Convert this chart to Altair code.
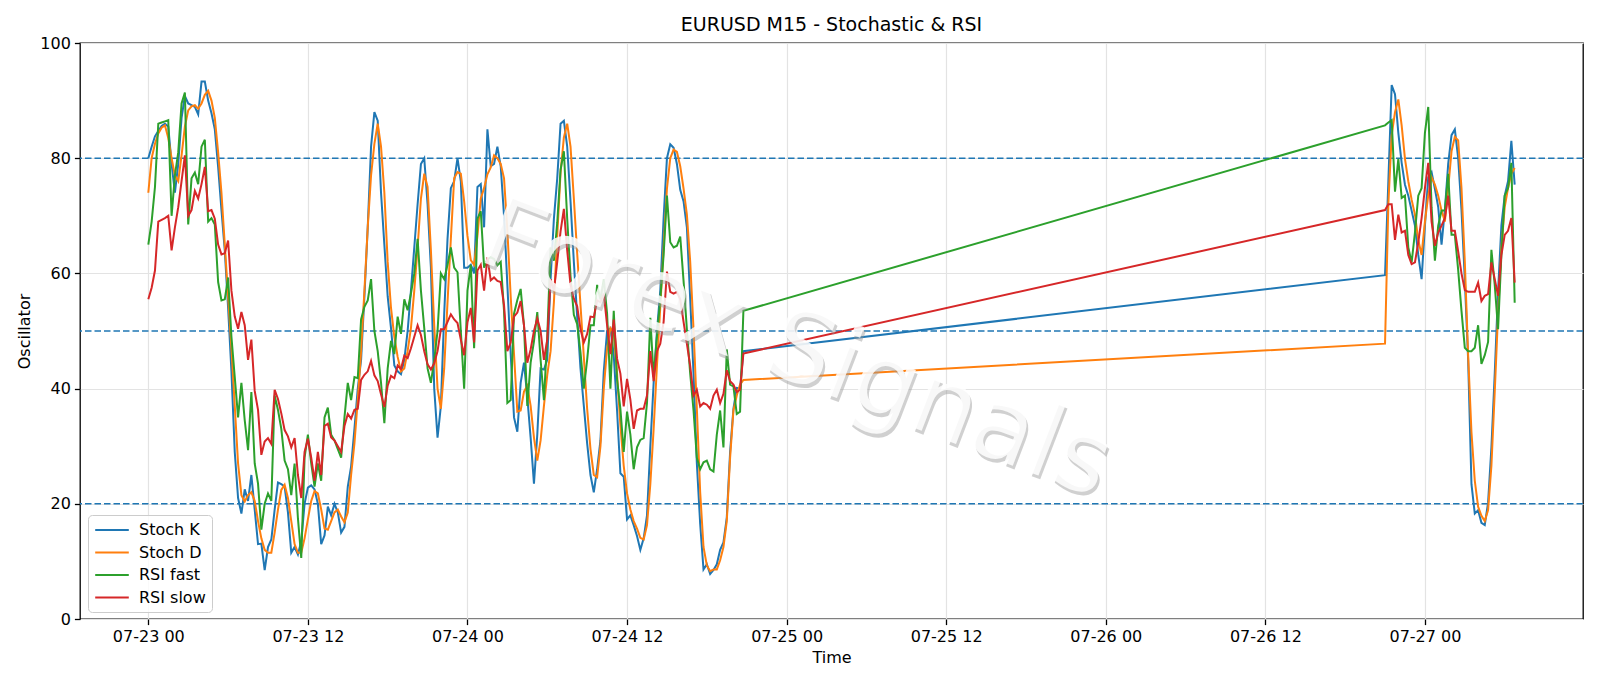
import altair as alt
import pandas as pd

# ---------------- data (15-minute bars) ----------------
# segment A: 2020-07-23 00:00 .. 2020-07-24 20:45 (180 bars)
stoch_k_a = [80, 82, 83.8, 84.7, 85.6, 86, 85.5, 79, 74, 79, 87, 90.8, 89.5, 89.2, 88.9, 87.6, 93.3, 93.3, 90, 87.8,
             85, 78.5, 71, 64, 54, 43, 29, 21, 18.3, 22.5, 20.5, 25, 19, 13, 13.1, 8.5, 12.5, 13.8, 19, 23.7,
             23.4, 23, 18.5, 11.5, 12.5, 11.2,
             13.5, 20, 22.8, 23.2, 22.5, 20, 13, 14.5, 19.5, 18, 20, 18.5, 15, 16, 23, 26.5, 33, 40, 45, 56,
             68, 82, 88, 86.5, 74, 65, 56, 50.5, 44, 43, 42.5, 45, 50, 57, 64.5, 72, 79, 80, 72, 61,
             40, 31.5, 37, 53, 66, 74.8,
             76, 80, 76, 61, 61, 61.5, 60, 75, 75.5, 68, 85, 78.6, 79, 82, 78.6, 70, 58, 46, 35, 32.5,
             41, 44.5, 38.5, 31.5, 23.5, 32, 43.5, 43.3, 45, 59, 69.5, 76.5, 86, 86.5, 82, 72.5, 62, 52.5, 43.5, 37,
             30.5, 25, 22, 26,
             31, 43, 50, 50.5, 45.8, 36.2, 25.3, 24.7, 17.3, 18, 16.3, 14.4, 12, 14, 18, 30, 41, 50, 57, 69.6,
             80, 82.4, 81.8, 79, 74.5, 72.5, 68, 55.5, 42.6, 27, 16.5, 8.6, 9.5, 7.8, 8.5, 9.5, 12, 13.3, 17.6, 29,
             36.5, 40.1, 40, 46.5]
stoch_d_a = [74, 80, 82.5, 84.3, 85.3, 85.7, 83.5, 80, 77, 76, 80.5, 85.5, 88.3, 89, 89.2, 88.6, 89.5, 91, 91.7, 90,
             87, 81, 74, 65, 56, 47, 37, 27, 21.5, 20.4, 21.5, 22, 20.5, 17, 14, 12, 11.5, 11.5, 15, 19,
             22.4, 23.3, 21, 17, 13, 11.5,
             11.5, 14, 17.3, 20.5, 22.2, 21.8, 19, 15.7, 15.5, 17, 18.5, 19, 17.8, 16.8, 18.5, 25, 30.5, 38, 46.5, 57,
             68, 77, 82.5, 86, 82, 74, 62, 54, 49, 45.5, 43, 43.5, 46.5, 50.5, 57, 64.5, 73, 77.3, 75, 64,
             51, 40, 36.5, 43.5, 55, 66,
             76.5, 77.6, 77.3, 72.5, 66.5, 62.3, 61.5, 66.5, 73, 74.8, 77.2, 78.4, 80.5, 80, 79, 76.5, 67.5, 56, 46, 36,
             36.2, 39.5, 40.5, 37, 31.5, 27.5, 31, 37, 42.4, 46.5, 55, 66.5, 77.5, 83.6, 86, 82, 73, 63.5, 54.5, 45.5,
             36.5, 29.5, 25, 24.6,
             30, 40, 47, 50.5, 49.7, 42.6, 33.6, 26.6, 21.8, 19, 17, 15.7, 14.1, 13.8, 16.3, 23.4, 33, 44, 54.2, 64.5,
             74.7, 80, 81.5, 81.1, 78.6, 74.7, 70.2, 62, 50.3, 36.5, 22, 12.5, 9.3, 8.3, 8.6, 8.6, 10.2, 12.5, 17, 28,
             36.2, 38.8, 40.7, 41.5]
rsi_fast_a = [65, 69, 75, 86, 86.2, 86.4, 86.6, 70, 77, 81, 89.5, 91.4, 68.5, 76.5, 77.5, 75.5, 82, 83.2, 69, 69.6,
              68.5, 58.5, 55.3, 55.5, 59.3, 49, 42, 35, 41, 34.5, 29.3, 39.4, 27, 23.5, 15.5, 20, 21.8, 20.5, 38.8, 36.3,
              33, 27.5, 26, 21.5, 27, 17.5,
              10.6, 28, 32, 27, 23, 27, 24, 35, 36.7, 32, 31, 29.5, 28, 35, 41, 38, 42, 41.8, 52, 54.2,
              55.3, 59, 50, 46.5, 41, 34, 43.5, 48.3, 46, 52.5, 49.5, 55.5, 53.6, 56.5, 60, 66, 57, 50.5, 43.5, 41,
              45, 50, 60, 59, 61.5, 64.5,
              61, 60.2, 50, 40, 57, 61.5, 47, 69.5, 70.8, 61, 62.4, 62.8, 62.5, 61.4, 62, 53.5, 37.5, 38, 53, 55.4,
              57.3, 51, 37, 44.5, 48.2, 53.3, 45, 38, 49, 64.5, 62.2, 68.8, 78, 81.2, 69.5, 59.5, 52.8, 51.2, 46.3, 40,
              45, 51, 51, 58,
              55.5, 59, 53, 40, 53.5, 41.5, 36.5, 29, 36, 32, 26, 29.8, 31.1, 31.4, 37.5, 52.3, 42, 49.1, 55.5, 63.2,
              73.5, 65.4, 64.5, 64.8, 66.4, 58.7, 50.3, 42.6, 36.2, 28, 26, 27.2, 27.5, 26, 25.6, 32, 36.2, 29.8, 46.8, 40.7,
              40.4, 35.6, 36, 53.5]
rsi_slow_a = [55.5, 57.5, 60.5, 69, 69.3, 69.6, 70, 64, 68, 71.5, 76, 80.5, 70, 71, 74.3, 73, 75.5, 78.5, 70.8, 71,
              69.5, 65, 63.3, 63.5, 65.7, 57, 52.5, 50.4, 53.3, 51, 45, 48.5, 39.6, 36.3, 28.5, 30.8, 31.4, 30.4, 39.8, 38.2,
              35.7, 32.8, 31.7, 29.8, 31.4, 25,
              21, 29, 31.3, 28, 24, 29, 25, 33.5, 33.9, 31.5, 31, 30, 29, 33.5, 35.6, 34.8, 36.3, 36.5, 41.5, 42.4,
              43, 44.8, 42.3, 41.3, 39, 36.8, 40.5, 42.2, 41.8, 44, 43.4, 45.7, 45.3, 47, 49, 51, 49.3, 46.5, 44.2, 43.3,
              44.4, 46.5, 50.3, 50.3, 51.6, 52.9,
              52, 51.4, 48.5, 45.8, 51.5, 54, 48, 60.5, 61.5, 57, 62.8, 58.8, 59.3, 58.7, 58.5, 54.5, 46.5, 48, 52.5, 53.2,
              55.2, 51, 44.5, 46.8, 50, 52.2, 50, 45, 48.5, 59, 57, 62, 67.3, 71.2, 64, 58, 55.6, 54.3, 50.3, 48,
              49.5, 52.5, 52.4, 55.3,
              55, 56.5, 51, 46, 52, 45.2, 42.6, 36.9, 41.7, 38.1, 33, 36.2, 36.5, 36.5, 38.8, 46.5, 41.3, 46.5, 47.8, 51.6,
              60.3, 56.8, 56.5, 56.8, 55.5, 51.6, 47.8, 43.9, 38.8, 39.8, 36.9, 37.5, 37.2, 36.5, 38.8, 39.8, 37.5, 39.1, 43.2, 41.3,
              40.7, 39.4, 39.8, 46.1]

# segment B: 2020-07-26 21:00 .. 2020-07-27 06:45 (40 bars)
stoch_k_b = [59.7, 76, 92.7, 91.1, 84.4, 79.2, 75.4, 73.5, 70.9, 68.3, 63.2, 59, 68.3, 76.7, 77.6, 74.7, 71.5, 65, 71, 79,
             84, 85, 80, 71, 59, 45, 23.4, 18.3, 18.9, 16.7, 16.3, 20.2, 29.8, 42.6, 56.8, 68.3, 73.5, 76, 83, 75.4]
stoch_d_b = [47.8, 72, 84, 88, 90.2, 85.7, 79.9, 76, 72.8, 70.2, 65.8, 63.2, 69, 73.5, 76.7, 75.4, 73.5, 70.9, 69, 74.8,
             81.2, 83.7, 83.1, 74.8, 62, 45.8, 32.4, 24, 19.5, 17.9, 17, 18.9, 26.6, 39.4, 52.9, 64.5, 71.5, 74.8, 77.3, 78.3]
rsi_fast_b = [85.7, 86.2, 86.6, 74.2, 79.9, 73.1, 73.5, 64.5, 61.9, 67.1, 73.5, 74.8, 84.4, 88.9, 71.5, 62.2, 68.3, 70.9, 70.9, 77.3,
              66.7, 66.7, 60.6, 53.5, 47.1, 46.5, 46.5, 47.1, 51, 44.3, 45.8, 48.1, 64.1, 58, 50.3, 63.2, 73.5, 74.8, 79.2, 54.9]
rsi_slow_b = [71, 72, 72, 65.8, 70.2, 67.1, 67.4, 63.2, 61.6, 61.9, 65.4, 69.6, 74.8, 79.2, 69, 64.8, 67.1, 68.3, 69.6, 73.5,
              67.4, 67.4, 63.8, 60, 57.1, 56.8, 56.8, 56.8, 58.4, 55.2, 56.1, 56.4, 61.9, 59, 56.1, 63.2, 66.7, 67.4, 69.6, 58.4]

series_names = ["Stoch K", "Stoch D", "RSI fast", "RSI slow"]
series_colors = ["#1f77b4", "#ff7f0e", "#2ca02c", "#d62728"]
levels = [20, 50, 80]
y_ticks = [0, 20, 40, 60, 80, 100]
watermark_text = "Forex Signals"

# ---------------- build table ----------------
times_a = pd.date_range("2020-07-23 00:00", periods=len(stoch_k_a), freq="15min")
times_b = pd.date_range("2020-07-26 21:00", periods=len(stoch_k_b), freq="15min")
times = [t.strftime("%Y-%m-%dT%H:%M:%SZ") for t in list(times_a) + list(times_b)]

values = {
    "Stoch K": stoch_k_a + stoch_k_b,
    "Stoch D": stoch_d_a + stoch_d_b,
    "RSI fast": rsi_fast_a + rsi_fast_b,
    "RSI slow": rsi_slow_a + rsi_slow_b,
}
rows = []
for name in series_names:
    for t, v in zip(times, values[name]):
        rows.append({"time": t, "value": v, "series": name})
df = pd.DataFrame(rows)

FONT = "DejaVu Sans"

x_ticks = [alt.DateTime(year=2020, month=7, date=23 + i // 2, hours=12 * (i % 2), utc=True) for i in range(9)]
x_domain = [alt.DateTime(year=2020, month=7, date=22, hours=18, minutes=51, seconds=45, utc=True),
            alt.DateTime(year=2020, month=7, date=27, hours=11, minutes=53, seconds=15, utc=True)]

x_enc = alt.X("time:T",
              scale=alt.Scale(type="utc", domain=x_domain),
              axis=alt.Axis(values=x_ticks, format="%m-%d %H", title="Time", grid=True,
                            labelPadding=4, titlePadding=5, labelAngle=0))
y_enc = alt.Y("value:Q",
              scale=alt.Scale(domain=[0, 100], nice=False, zero=False),
              axis=alt.Axis(values=y_ticks, title="Oscillator", grid=True,
                            labelPadding=4, titlePadding=7))

lines = alt.Chart(df).mark_line(strokeWidth=2, clip=True).encode(
    x=x_enc,
    y=y_enc,
    color=alt.Color("series:N",
                    scale=alt.Scale(domain=series_names, range=series_colors),
                    sort=series_names,
                    legend=alt.Legend(title=None, orient="none", legendX=8, legendY=472,
                                      fillColor="rgba(255,255,255,0.8)", strokeColor="#cccccc",
                                      cornerRadius=4, padding=6,
                                      symbolType="M-2.1,0H2.1", symbolSize=256, symbolOffset=9,
                                      symbolStrokeWidth=2, labelFontSize=16,
                                      labelFont=FONT, labelColor="black", rowPadding=5.5,
                                      labelOffset=18)),
)

rules = alt.Chart(pd.DataFrame({"value": levels})).mark_rule(
    color="#1f77b4", strokeDash=[6.5, 3], strokeWidth=1.5
).encode(y=y_enc)

wm_df = pd.DataFrame({"time": ["2020-07-25T00:45:00Z"], "value": [46.6], "label": [watermark_text]})
wm_shadow = alt.Chart(wm_df).mark_text(
    angle=21, fontSize=100, font=FONT, align="center", baseline="middle",
    color="#999999", opacity=0.45, dx=3, dy=3
).encode(x=x_enc, y=y_enc, text="label:N")
wm_main = alt.Chart(wm_df).mark_text(
    angle=21, fontSize=100, font=FONT, align="center", baseline="middle",
    color="#ffffff", opacity=0.85
).encode(x=x_enc, y=y_enc, text="label:N")

chart = alt.layer(rules, lines, wm_shadow, wm_main).properties(
    width=1503, height=576,
    background="white",
    title=alt.Title("EURUSD M15 - Stochastic & RSI", font=FONT, fontSize=19, fontWeight="normal",
                    color="black", anchor="middle", offset=0),
    autosize=alt.AutoSizeParams(type="none"),
    padding={"left": 80, "top": 43, "right": 17, "bottom": 67},
).configure_view(
    stroke="black", strokeWidth=1.3
).configure_axis(
    domain=False, labelFont=FONT, labelFontSize=16, labelColor="black",
    titleFont=FONT, titleFontSize=16, titleFontWeight="normal", titleColor="black",
    tickColor="black", tickSize=5.6, tickWidth=1.3,
    gridColor="#e3e3e3", gridWidth=1.2
)

chart.save("out.html", embed_options={"renderer": "svg", "actions": False})
